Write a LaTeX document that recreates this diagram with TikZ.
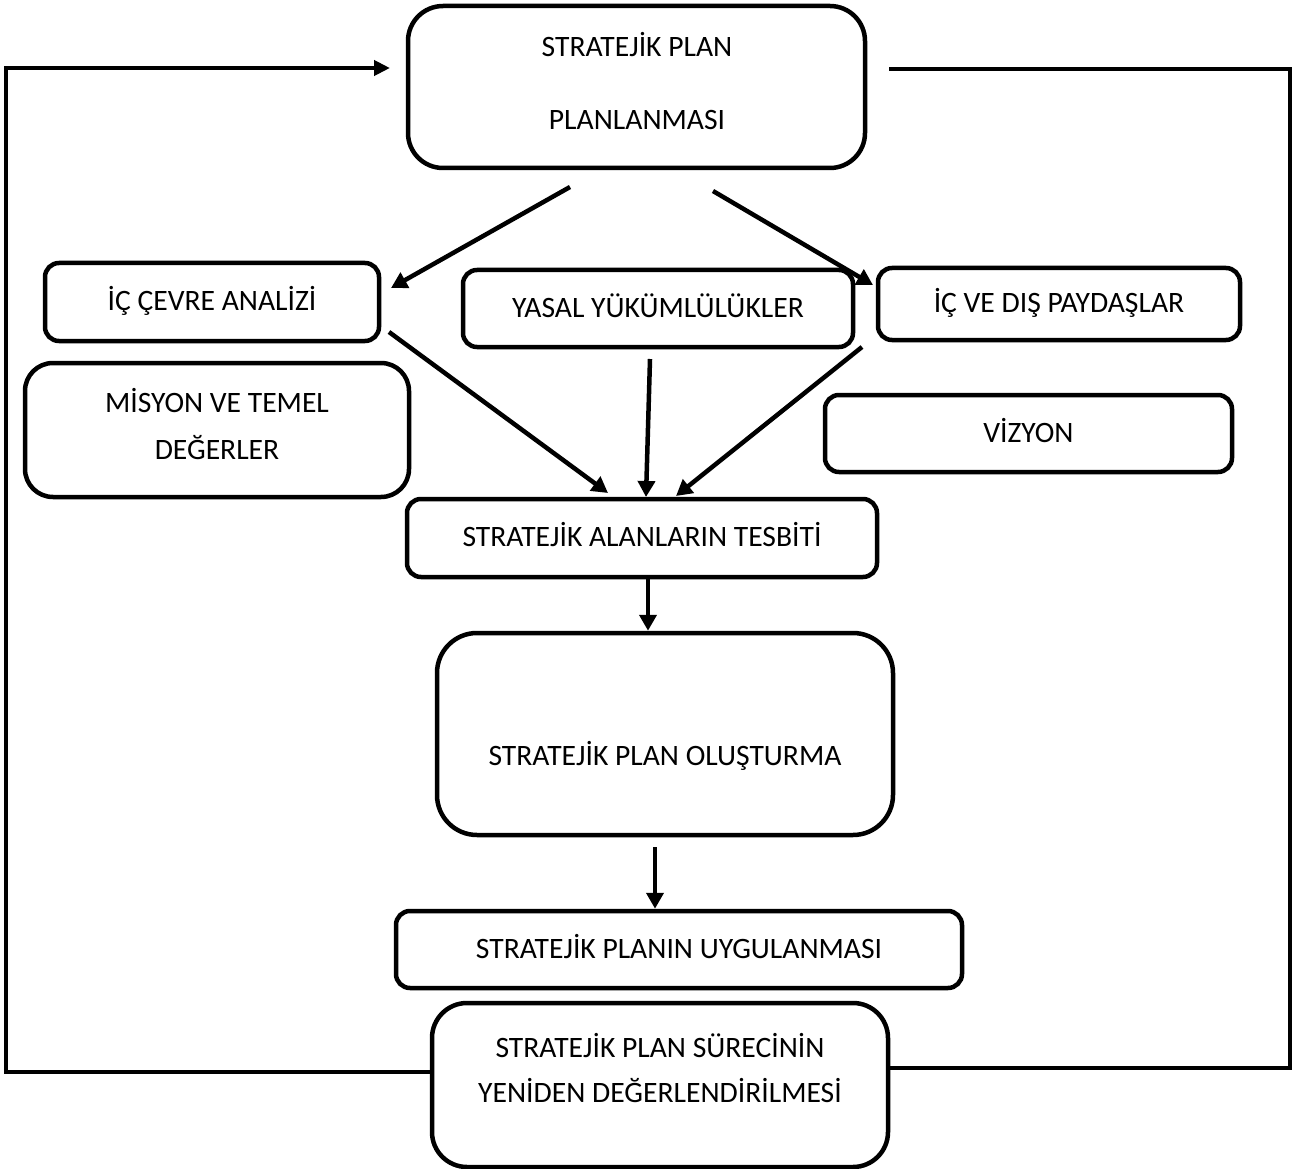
\documentclass[tikz,border=0pt]{standalone}
\usepackage{fontspec}
\setmainfont{Carlito}
\usetikzlibrary{arrows.meta}
\newcommand\boxfont{\fontsize{29.6}{35}\selectfont}
\begin{document}
\begin{tikzpicture}[x=1pt,y=-1pt,
  box/.style={draw, line width=4.5pt, rounded corners=#1, inner sep=0pt,
    font=\boxfont, text height=20pt, text depth=3pt},
  box/.default=14pt,
  lbl/.style={font=\boxfont, anchor=base, inner sep=0pt},
  arr/.style={line width=4.5pt, line join=miter, -{Triangle[length=16pt,width=17pt]}},
  fb/.style={line width=4.5pt, line join=miter}]
\useasboundingbox (0,0) rectangle (1299,1169);

% boxes
\node[box=35pt, minimum width=457pt, minimum height=162pt] (top) at (636.5,87) {};
\node[lbl] (topA) at (637,56.5) {STRATEJİK PLAN};
\node[lbl] (topB) at (637,129.5) {PLANLANMASI};

\node[box, minimum width=334pt, minimum height=78pt] (ic) at (212,302) {İÇ ÇEVRE ANALİZİ};
\node[box, minimum width=390pt, minimum height=77pt] (yasal) at (658,308.5) {YASAL YÜKÜMLÜLÜKLER};
\node[box, minimum width=362pt, minimum height=72pt] (payd) at (1059,304) {İÇ VE DIŞ PAYDAŞLAR};

\node[box=28pt, minimum width=384pt, minimum height=134pt] (mis) at (217,430) {};
\node[lbl] (misA) at (217,412.5) {MİSYON VE TEMEL};
\node[lbl] (misB) at (217,459.5) {DEĞERLER};

\node[box, minimum width=407pt, minimum height=77pt] (viz) at (1028.5,433.5) {VİZYON};
\node[box, minimum width=470pt, minimum height=78pt] (alan) at (642,538) {STRATEJİK ALANLARIN TESBİTİ};

\node[box=40pt, minimum width=456pt, minimum height=202pt] (olus) at (665,734) {};
\node[lbl] (olusT) at (665,765) {STRATEJİK PLAN OLUŞTURMA};

\node[box, minimum width=566pt, minimum height=77pt] (uyg) at (679,949.5) {STRATEJİK PLANIN UYGULANMASI};

\node[box=35pt, minimum width=456pt, minimum height=164pt] (last) at (660,1085) {};
\node[lbl] (lastA) at (660,1057.5) {STRATEJİK PLAN SÜRECİNİN};
\node[lbl] (lastB) at (660,1102.5) {YENİDEN DEĞERLENDİRİLMESİ};

% free ends of connectors
\coordinate (a1s) at (570,187);  \coordinate (a1e) at (391,288);
\coordinate (a2s) at (713,191);  \coordinate (a2e) at (873,285);
\coordinate (a3s) at (389,332);  \coordinate (a3e) at (608,493);
\coordinate (a4s) at (650,359);  \coordinate (a4e) at (646,497);
\coordinate (a5s) at (862,347);  \coordinate (a5e) at (676,496);
\coordinate (a7s) at (655,847);
\coordinate (fbl) at (6,1072);   \coordinate (fbt) at (390,68);
\coordinate (fbr) at (1290,1068); \coordinate (frt) at (889,69);

% connectors
\draw[arr] (a1s) -- (a1e);
\draw[arr] (a2s) -- (a2e);
\draw[arr] (a3s) -- (a3e);
\draw[arr] (a4s) -- (a4e);
\draw[arr] (a5s) -- (a5e);
\draw[arr] (alan.south -| 648,0) -- (olus.north -| 648,0);
\draw[arr] (a7s) -- (uyg.north -| a7s);

% feedback loop
\draw[fb, -{Triangle[length=16pt,width=15pt]}] (last.west |- fbl) -- (fbl) -- (fbl |- fbt) -- (fbt);
\draw[fb] (last.east |- fbr) -- (fbr) -- (fbr |- frt) -- (frt);
\end{tikzpicture}
\end{document}
